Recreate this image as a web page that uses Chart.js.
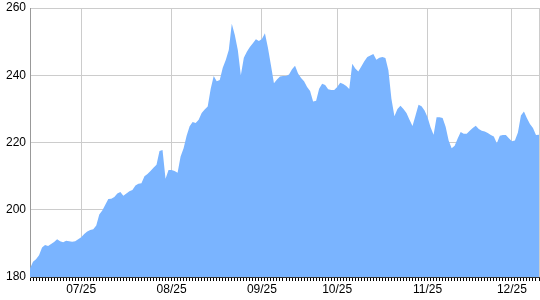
<!DOCTYPE html>
<html>
<head>
<meta charset="utf-8">
<script src="https://cdn.jsdelivr.net/npm/chart.js@4/dist/chart.umd.min.js"></script>
<style>
  html, body { margin: 0; padding: 0; background: #fff; }
  #wrap { width: 540px; height: 300px; }
</style>
</head>
<body>
<div id="wrap"><canvas id="chart"></canvas></div>
<script>
// month labels sit on these point indices, every other point is unlabeled
const monthLabels = ['07/25', '08/25', '09/25', '10/25', '11/25', '12/25'];
const monthIndex = [17, 47, 77, 102, 132, 160];

const yTicks = [180, 200, 220, 240, 260];

const prices = [
  182.5, 184.5, 185.3, 186.5, 188.8, 189.5, 189.2, 189.8, 190.4, 191.2,
  190.6, 190.3, 190.8, 190.6, 190.5, 190.6, 191.2, 191.8, 192.8, 193.5,
  194.0, 194.2, 195.3, 198.6, 199.8, 201.5, 203.2, 203.3, 203.8, 204.8,
  205.3, 204.2, 204.8, 205.5, 205.9, 207.2, 207.7, 207.9, 210.0, 210.6,
  211.5, 212.5, 213.4, 217.5, 217.8, 209.2, 211.8, 211.8, 211.5, 211.0,
  215.8, 218.3, 222.0, 224.8, 226.1, 225.8, 226.8, 228.8, 229.8, 230.7,
  236.0, 239.8, 238.2, 238.6, 242.2, 244.5, 247.5, 255.3, 252.0, 247.5,
  240.0, 245.2, 247.0, 248.4, 249.5, 250.7, 250.2, 250.8, 252.5, 248.2,
  243.0, 237.6, 238.7, 239.6, 239.8, 239.8, 240.2, 241.8, 242.8, 240.5,
  239.2, 238.2, 236.5, 235.3, 232.2, 232.4, 236.0, 237.5, 237.1, 235.8,
  235.6, 235.6, 236.5, 237.8, 237.4, 236.8, 235.9, 243.4, 242.0, 241.1,
  242.6, 244.2, 245.4, 245.9, 246.3, 244.6, 245.2, 245.4, 245.1, 241.5,
  233.0, 227.8, 230.0, 230.9, 230.0, 228.8, 226.8, 224.9, 228.0, 231.2,
  230.8, 229.5, 227.5, 224.5, 222.3, 227.5, 227.5, 227.3, 224.7, 220.6,
  218.3, 219.0, 221.2, 223.1, 222.6, 222.6, 223.5, 224.3, 225.0, 224.0,
  223.5, 223.3, 222.8, 222.2, 221.8, 219.8, 222.0, 222.2, 222.2, 221.3,
  220.4, 220.6, 223.0, 228.0, 229.2, 227.2, 225.5, 224.3, 222.2, 222.3
];

const labels = prices.map((_, i) => {
  const pos = monthIndex.indexOf(i);
  return pos >= 0 ? monthLabels[pos] : '';
});

const isGridTick = (i) => labels[i] !== '' || i === prices.length - 1;

new Chart(document.querySelector('#chart'), {
  type: 'line',
  data: {
    labels,
    datasets: [
      {
        data: prices,
        fill: 'start',
        backgroundColor: 'rgb(122, 180, 255)',
        borderWidth: 0,
        pointRadius: 0,
        tension: 0,
      },
    ],
  },
  options: {
    responsive: true,
    maintainAspectRatio: false,
    animation: false,
    events: [],
    layout: { padding: { top: 8, right: 1, left: 0, bottom: 0 } },
    plugins: {
      legend: { display: false },
      tooltip: { enabled: false },
    },
    scales: {
      x: {
        offset: false,
        afterFit(scale) {
          scale.height = 23;
          scale.paddingLeft = 0;
          scale.paddingRight = 0;
        },
        grid: {
          color: (ctx) => (isGridTick(ctx.index) ? '#cccccc' : 'rgba(0,0,0,0)'),
          tickColor: '#000',
          tickLength: 4,
          lineWidth: 1,
        },
        border: { color: '#333', width: 1 },
        ticks: {
          autoSkip: false,
          maxRotation: 0,
          minRotation: 0,
          padding: 1,
          color: '#000',
          font: { family: 'Liberation Sans, Arial, sans-serif', size: 12 },
          callback: (value, index) => labels[index],
        },
      },
      y: {
        min: 180,
        max: 260,
        afterFit(scale) {
          scale.width = 30;
          scale.paddingTop = 0;
          scale.paddingBottom = 0;
        },
        afterBuildTicks(scale) { scale.ticks = yTicks.map((v) => ({ value: v })); },
        grid: { color: '#cccccc', drawTicks: false },
        border: { color: '#999', width: 1 },
        ticks: {
          padding: 4,
          color: '#000',
          font: { family: 'Liberation Sans, Arial, sans-serif', size: 12 },
        },
      },
    },
  },
});
</script>
</body>
</html>
